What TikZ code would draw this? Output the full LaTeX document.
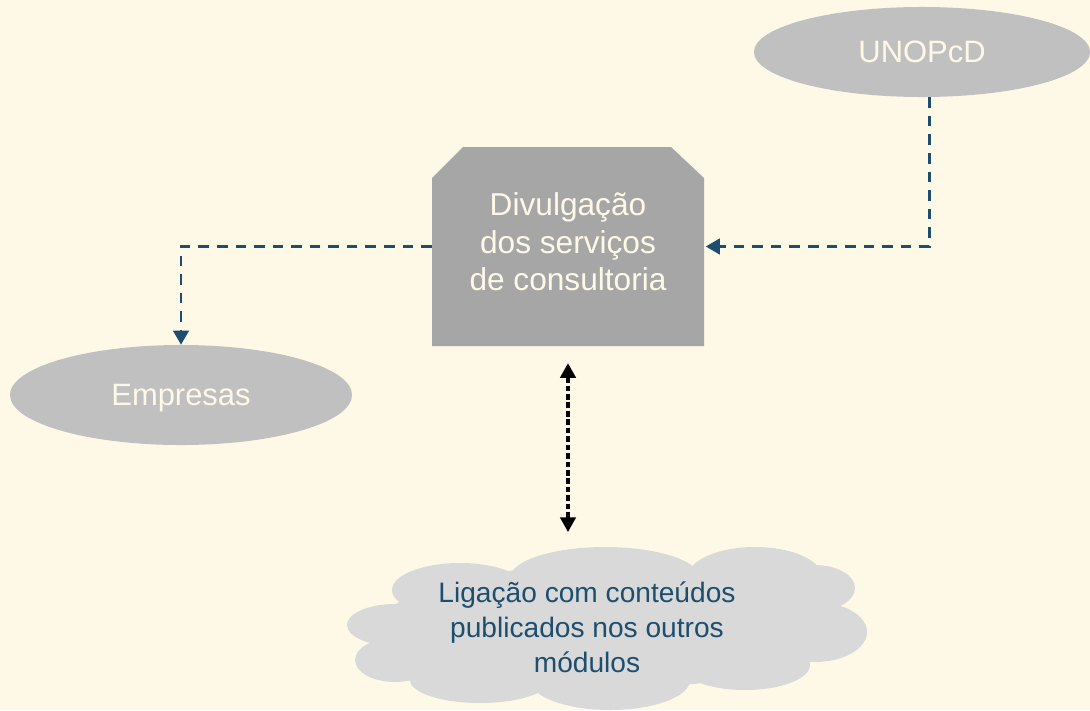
\documentclass[tikz,border=0pt]{standalone}
\usepackage{fontspec}
\setmainfont{Liberation Sans}
\usetikzlibrary{shapes.geometric,arrows.meta}

\definecolor{paper}{HTML}{FEF8E6}
\definecolor{boxgray}{HTML}{A6A6A6}
\definecolor{ovalgray}{HTML}{C0C0C0}
\definecolor{cloudgray}{HTML}{D9D9D9}
\definecolor{linkblue}{HTML}{1D4E6E}

\tikzset{
  oval/.style={ellipse, fill=ovalgray, text=paper, text depth=0pt, font=\fontsize{22}{26}\selectfont},
  flow/.style={linkblue, line width=2.1pt, dash pattern=on 7.5pt off 5.7pt, -{Triangle[length=10pt,width=11pt]}},
}

\begin{document}
\begin{tikzpicture}[x=0.025cm,y=-0.025cm]
   \fill[paper] (0,0) rectangle (1090,710);
   \useasboundingbox (0,0) rectangle (1090,710);

   \node[oval, minimum width=8.4cm, minimum height=2.25cm] (unopcd) at (922,52) {UNOPcD};
   \node[oval, minimum width=8.55cm, minimum height=2.5cm] (empresas) at (181,395) {Empresas};

   % caixa central com os cantos de cima cortados
   \fill[boxgray] (432,178) -- (463,147) -- (671,147) -- (704,178) -- (704,346) -- (432,346) -- cycle;
   \node[minimum width=6.8cm, minimum height=4.975cm, text=paper, align=center,
         font=\fontsize{22.5}{26.6}\selectfont] (divulg) at (568,246.5)
         {Divulgação\\dos serviços\\de consultoria\\[-19.6pt]};

   % nuvem
   \fill[cloudgray]
      (605,627) ellipse [x radius=225, y radius=62]
      (605,578) ellipse [x radius=95, y radius=31]
      (755,578) ellipse [x radius=68, y radius=31]
      (815,588) ellipse [x radius=40, y radius=23]
      (815,632) ellipse [x radius=52, y radius=30]
      (745,665) ellipse [x radius=65, y radius=25]
      (610,680) ellipse [x radius=80, y radius=30]
      (480,680) ellipse [x radius=70, y radius=23]
      (395,660) ellipse [x radius=40, y radius=22]
      (395,625) ellipse [x radius=48, y radius=21]
      (460,590) ellipse [x radius=68, y radius=27];
   \node[minimum width=13cm, minimum height=4.1cm, text=linkblue, align=center,
         font=\fontsize{20}{24.8}\selectfont] (ligacao) at (587,627)
         {Ligação com conteúdos\\publicados nos outros\\módulos};

   % ligacoes
   \draw[flow, shorten >=1pt] ([xshift=0.18cm]unopcd.south) |- (divulg.east);
   \draw[flow] (divulg.west) -| (empresas.north);
   \draw[black, line width=2.3pt, dash pattern=on 4pt off 2pt,
         {Triangle[length=10.5pt,width=11pt]}-{Triangle[length=10.5pt,width=11pt]},
         shorten <=12pt, shorten >=9pt] (divulg.south) -- (divulg.south |- ligacao.north);
\end{tikzpicture}
\end{document}
